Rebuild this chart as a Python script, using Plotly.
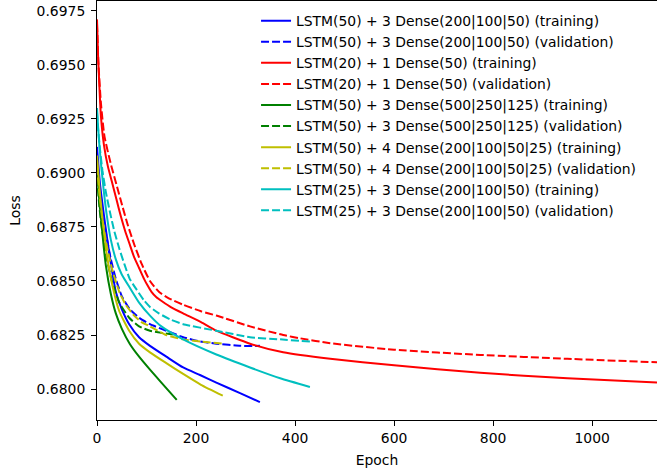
import plotly.graph_objects as go

# ---- data ----
labels = [
    "LSTM(50) + 3 Dense(200|100|50) (training)",
    "LSTM(50) + 3 Dense(200|100|50) (validation)",
    "LSTM(20) + 1 Dense(50) (training)",
    "LSTM(20) + 1 Dense(50) (validation)",
    "LSTM(50) + 3 Dense(500|250|125) (training)",
    "LSTM(50) + 3 Dense(500|250|125) (validation)",
    "LSTM(50) + 4 Dense(200|100|50|25) (training)",
    "LSTM(50) + 4 Dense(200|100|50|25) (validation)",
    "LSTM(25) + 3 Dense(200|100|50) (training)",
    "LSTM(25) + 3 Dense(200|100|50) (validation)",
]

blue_train_x = [0, 6, 16, 26, 38, 50, 65, 85, 107, 140, 174, 208, 241, 290, 329]
blue_train_y = [0.6912, 0.6895, 0.6877, 0.6861, 0.6845, 0.6837, 0.6830, 0.6824, 0.6820,
                0.6815, 0.6810, 0.68065, 0.6803, 0.6798, 0.6794]
blue_val_x = [0, 6, 12, 18, 28, 38, 50, 66, 85, 107, 140, 174, 208, 241, 290, 329]
blue_val_y = [0.6905, 0.6890, 0.6880, 0.6872, 0.6860, 0.6851, 0.6843, 0.6837, 0.6833,
              0.6830, 0.6827, 0.6824, 0.6822, 0.6821, 0.6820, 0.6820]

red_train_x = [0, 2, 5, 8, 14, 22, 30, 39, 48, 57, 66, 75, 85, 95, 102, 110, 120, 132,
               150, 174, 210, 241, 309, 376, 471, 600, 774, 950, 1131]
red_train_y = [0.6971, 0.6955, 0.6939, 0.6926, 0.6913, 0.6903, 0.6896, 0.6888, 0.6880,
               0.6873, 0.6867, 0.6861, 0.6856, 0.6851, 0.6848, 0.6845, 0.68425, 0.68405,
               0.68378, 0.6835, 0.6831, 0.6827, 0.6821, 0.6817, 0.6814, 0.6811, 0.68075,
               0.6805, 0.6803]
red_val_x = [0, 3, 8, 15, 28, 40, 52, 62, 75, 90, 107, 125, 145, 174, 210, 241, 309, 376,
             410, 471, 600, 774, 950, 1131]
red_val_y = [0.6969, 0.6950, 0.6932, 0.6917, 0.6904, 0.6894, 0.6884, 0.6876, 0.6867,
             0.6858, 0.6850, 0.6845, 0.6842, 0.6839, 0.6836, 0.6834, 0.6829, 0.6825,
             0.68235, 0.68212, 0.68182, 0.68158, 0.6814, 0.68124]

green_train_x = [0, 4, 8, 13, 18, 28, 38, 50, 66, 85, 107, 130, 161]
green_train_y = [0.6902, 0.6889, 0.6879, 0.6867, 0.6857, 0.6844, 0.6835, 0.6828, 0.6821,
                 0.6815, 0.6809, 0.6803, 0.6795]
green_val_x = [0, 5, 10, 20, 30, 45, 65, 85, 107, 130, 161]
green_val_y = [0.6898, 0.6884, 0.6874, 0.6860, 0.6850, 0.6840, 0.6833, 0.6829, 0.6827,
               0.6826, 0.6825]

yellow_train_x = [0, 6, 12, 20, 31, 45, 65, 85, 107, 140, 174, 210, 254]
yellow_train_y = [0.6908, 0.6890, 0.6877, 0.6862, 0.6848, 0.6836, 0.6827, 0.6821, 0.6817,
                  0.6812, 0.6807, 0.6802, 0.6797]
yellow_val_x = [0, 5, 10, 20, 31, 45, 58, 75, 90, 107, 140, 174, 210, 254]
yellow_val_y = [0.6903, 0.6890, 0.6880, 0.6866, 0.6855, 0.6845, 0.6839, 0.6834, 0.6831,
                0.6829, 0.6825, 0.6823, 0.6822, 0.6821]

cyan_train_x = [0, 2, 5, 9, 14, 20, 28, 38, 50, 66, 85, 107, 130, 174, 241, 309, 370, 430]
cyan_train_y = [0.6930, 0.6922, 0.6912, 0.6902, 0.6891, 0.6880, 0.6869, 0.6860, 0.6853,
                0.6847, 0.6840, 0.6834, 0.6829, 0.6823, 0.6816, 0.6810, 0.6805, 0.6801]
cyan_val_x = [0, 2, 6, 11, 18, 26, 35, 45, 55, 66, 80, 95, 107, 125, 150, 174, 241, 309, 370, 430]
cyan_val_y = [0.6928, 0.6921, 0.6911, 0.6901, 0.6891, 0.6882, 0.6873, 0.6865, 0.6858,
              0.6851, 0.6846, 0.6841, 0.6838, 0.6835, 0.6832, 0.6830, 0.6827, 0.6824,
              0.6823, 0.6822]

x_ticks = [0, 200, 400, 600, 800, 1000]
y_ticks = [0.6800, 0.6825, 0.6850, 0.6875, 0.6900, 0.6925, 0.6950, 0.6975]

# ---- styling ----
series = [
    (blue_train_x, blue_train_y, "#0000ff", "solid"),
    (blue_val_x, blue_val_y, "#0000ff", "dash"),
    (red_train_x, red_train_y, "#ff0000", "solid"),
    (red_val_x, red_val_y, "#ff0000", "dash"),
    (green_train_x, green_train_y, "#008000", "solid"),
    (green_val_x, green_val_y, "#008000", "dash"),
    (yellow_train_x, yellow_train_y, "#bfbf00", "solid"),
    (yellow_val_x, yellow_val_y, "#bfbf00", "dash"),
    (cyan_train_x, cyan_train_y, "#00bfbf", "solid"),
    (cyan_val_x, cyan_val_y, "#00bfbf", "dash"),
]

FONT = "DejaVu Sans"
FS = 13.9

fig = go.Figure()
for (xs, ys, col, style), name in zip(series, labels):
    fig.add_trace(go.Scatter(
        x=xs, y=ys, mode="lines", name=name,
        line=dict(color=col, width=2, dash=("solid" if style == "solid" else "8px,3px"),
                  shape="spline", smoothing=0.5),
    ))

fig.update_layout(
    width=657, height=473,
    margin=dict(l=97, r=0, t=1, b=53, autoexpand=False),
    paper_bgcolor="white", plot_bgcolor="white",
    font=dict(family=FONT, size=FS, color="black"),
    showlegend=True,
    legend=dict(x=0.284, y=0.990, xanchor="left", yanchor="top",
                bgcolor="rgba(0,0,0,0)", borderwidth=0,
                font=dict(family=FONT, size=FS, color="black")),
)
fig.update_xaxes(
    range=[0, 1131], tickvals=x_ticks, ticktext=[str(v) for v in x_ticks],
    showgrid=False, zeroline=False, showline=True, linecolor="black", linewidth=1,
    mirror=True, ticks="outside", ticklen=5, tickwidth=1, tickcolor="black",
    automargin=False,
    title=dict(text="Epoch", standoff=10, font=dict(family=FONT, size=FS)),
)
fig.update_yaxes(
    range=[0.67857, 0.69795], tickvals=y_ticks, ticktext=[f"{v:.4f}" for v in y_ticks],
    showgrid=False, zeroline=False, showline=True, linecolor="black", linewidth=1,
    mirror=False, ticks="outside", ticklen=5, tickwidth=1, tickcolor="black",
    automargin=False, ticklabelstandoff=3,
    title=dict(text="Loss", standoff=12, font=dict(family=FONT, size=FS)),
)

fig.write_html("out.html", config={"displayModeBar": False},
               post_script="document.body.style.margin='0';")
